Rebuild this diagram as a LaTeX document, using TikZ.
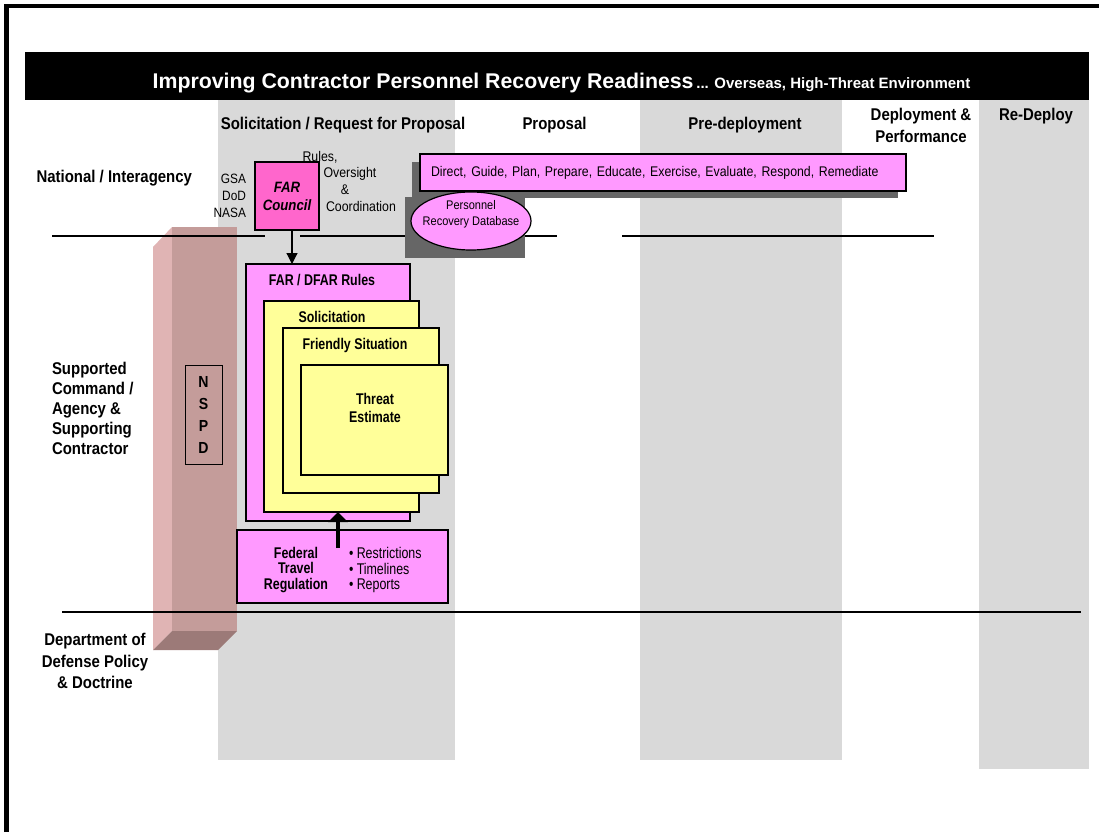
\documentclass[tikz,border=0pt]{standalone}
\usepackage{fontspec}
\setmainfont[FakeStretch=0.88]{Liberation Sans}
\newfontfamily\titlefont{Liberation Sans}
\newfontfamily\narrowfont[FakeStretch=0.8]{Liberation Sans}
\usetikzlibrary{shapes.geometric,arrows.meta}

\definecolor{colgray}{HTML}{D9D9D9}
\definecolor{boxpink}{HTML}{FF99FF}
\definecolor{farpink}{HTML}{FF66CC}
\definecolor{noteyellow}{HTML}{FFFF99}
\definecolor{shadowgray}{HTML}{666666}
\definecolor{barlight}{HTML}{E0B4B4}
\definecolor{barmain}{HTML}{C49C9A}
\definecolor{bardark}{HTML}{9C7A78}

\newcommand{\fsz}[2]{\fontsize{#1}{#2}\selectfont}

\begin{document}
\begin{tikzpicture}[x=1pt,y=-1pt,
  every node/.style={inner sep=0pt,outer sep=0pt},
  hdr/.style={font=\fsz{17}{22}\bfseries,anchor=base},
  rowlbl/.style={font=\fsz{17}{20}\bfseries},
  sepline/.style={line width=1.3pt},
  pbox/.style={draw=black,line width=1.2pt,fill=boxpink,anchor=north west},
  ybox/.style={draw=black,line width=1.2pt,fill=noteyellow,anchor=north west},
  boxtitle/.style={font=\narrowfont\fsz{15.5}{18}\bfseries,align=center},
  note/.style={font=\fsz{14}{17}},
  arr/.style={line width=1.2pt,-{Triangle[width=11pt,length=11pt]}},
  thickarr/.style={line width=4pt,-{Triangle[width=19pt,length=10pt]}},
]
\useasboundingbox (0,0) rectangle (1099,832);

% phase columns
\fill[colgray] (218,100) rectangle (455,760);
\fill[colgray] (640,100) rectangle (842,760);
\fill[colgray] (979,100) rectangle (1089,769);

% page frame
\draw[line width=4.5pt] (6.5,832) -- (6.5,6) -- (1099,6);

% title bar
\fill[black] (25,52) rectangle (1089,100);
\node[font=\titlefont\bfseries,text=white,anchor=base] (title) at (561.5,89)
  {{\fsz{21.3}{24}Improving Contractor Personnel Recovery Readiness} {\fsz{15}{18}... Overseas, High-Threat Environment}};

% column headers
\node[hdr] (h1) at (343,129.5) {Solicitation / Request for Proposal};
\node[hdr] (h2) at (554.5,129.5) {Proposal};
\node[hdr] (h3) at (745,129.5) {Pre-deployment};
\node[hdr] (h4a) at (921,120.5) {Deployment \&};
\node[hdr] (h4b) at (921,142.5) {Performance};
\node[hdr] (h5) at (1036,120.5) {Re-Deploy};

% NSPD bar
\fill[barlight] (153,247) -- (172,227) -- (172,631) -- (153,650) -- cycle;
\fill[barmain] (172,227) rectangle (237,631);
\fill[bardark] (172,631) -- (237,631) -- (218,650) -- (153,650) -- cycle;
\node[draw,line width=0.8pt,fill=barmain,minimum width=37pt,minimum height=99pt,
  align=center,font=\fsz{16}{22}\bfseries] (nspd) at (203.5,414.5) {N\\S\\P\\D};

% level separators
\draw[sepline] (52,236) -- (265,236);
\draw[sepline] (300,236) -- (557,236);
\draw[sepline] (622,236) -- (934,236);
\draw[sepline] (62,612) -- (1081,612);

% row labels
\node[rowlbl,anchor=base east] (natl) at (192,182) {National / Interagency};
\node[rowlbl,align=left,anchor=west] (supp) at (52,408)
  {Supported\\Command /\\Agency \&\\Supporting\\Contractor};
\node[rowlbl,align=center,font=\fsz{17}{21.5}\bfseries] (dod) at (95,661)
  {Department of\\Defense Policy\\\& Doctrine};

% national level
\node[font=\fsz{13.5}{17},align=right,anchor=east] (agencies) at (246,196) {GSA\\DoD\\NASA};
\node[pbox,fill=farpink,minimum width=64pt,minimum height=68pt,align=center,
  font=\fsz{15}{18}\bfseries\itshape] (farc) at (255,162) {FAR\\Council};
\node[note] (ro1) at (320,157) {Rules,};
\node[note] (ro2) at (350,174) {Oversight};
\node[note] (ro3) at (345,190) {\&};
\node[note] (ro4) at (361,206) {Coordination};

% shadows under the activity bar and the database
\fill[shadowgray] (412,162) rectangle (898,198);
\fill[shadowgray] (405,197) rectangle (525,258);
\node[pbox,inner xsep=11pt,text width=464pt,minimum height=37pt,align=left,
  font=\fsz{14}{17}] (direct) at (420,154)
  {Direct, Guide, Plan, Prepare, Educate, Exercise, Evaluate, Respond, Remediate};
\node[ellipse,draw=black,line width=1.2pt,fill=boxpink,minimum width=120pt,
  minimum height=58pt] (prdb) at (471,221) {};
\node[font=\fsz{12.5}{16.5},align=center] (prdbt) at (471,214.5) {Personnel\\Recovery Database};

% contracting documents
\node[pbox,minimum width=164pt,minimum height=257pt] (rules) at (246,264) {};
\node[boxtitle,anchor=base] (rulest) at (322,285.5) {FAR / DFAR Rules};
\node[ybox,minimum width=155pt,minimum height=211pt] (sol) at (264,301) {};
\node[boxtitle,anchor=base] (solt) at (332,322.5) {Solicitation};
\node[ybox,minimum width=156pt,minimum height=165pt] (fri) at (283,328) {};
\node[boxtitle,anchor=base] (frit) at (355,349.5) {Friendly Situation};
\node[ybox,minimum width=147pt,minimum height=110pt] (thr) at (301,365) {};
\node[boxtitle] (thrt) at (375,408) {Threat\\Estimate};

% federal travel regulation
\node[pbox,minimum width=211pt,minimum height=73pt] (ftr) at (237,530) {};
\node[boxtitle,font=\narrowfont\fsz{15.5}{15.5}\bfseries] (ftrt) at (296,570) {Federal\\Travel\\Regulation};
\node[align=left,anchor=west,font=\narrowfont\fsz{15.5}{15.5}] (ftrb) at (349,570)
  {\textbullet\ Restrictions\\\textbullet\ Timelines\\\textbullet\ Reports};

% connectors
\coordinate (farx) at (292,0);
\draw[arr] (farc.south -| farx) -- (rules.north -| farx);
\coordinate (ftrstart) at (338,548);
\draw[thickarr] (ftrstart) -- (sol.south -| ftrstart);

\end{tikzpicture}
\end{document}
